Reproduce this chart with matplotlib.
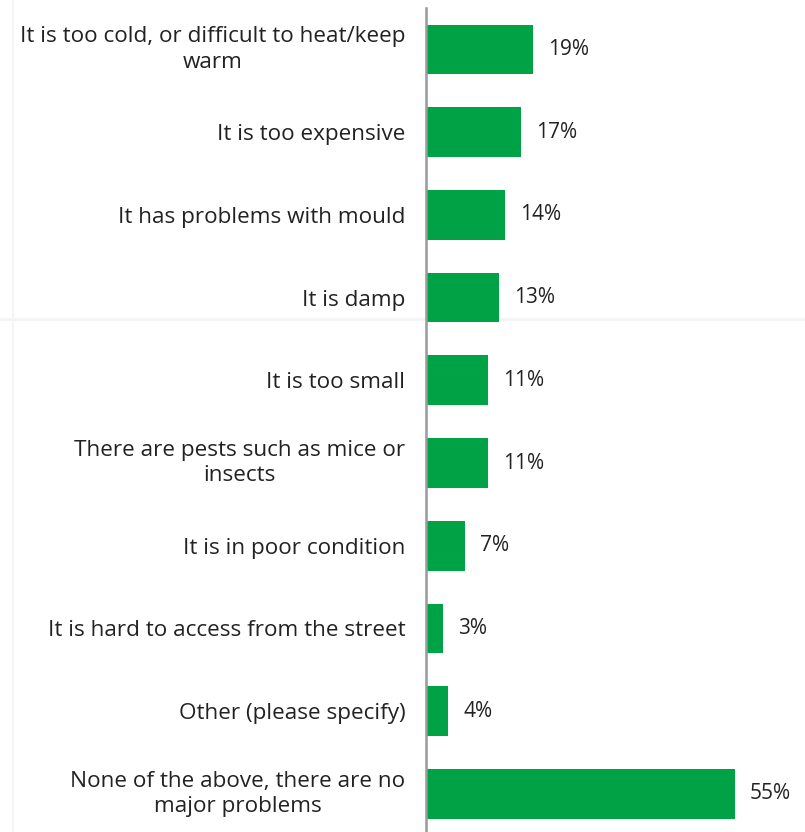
import matplotlib
matplotlib.use("Agg")
import matplotlib.pyplot as plt
from matplotlib.lines import Line2D

categories = [
    "It is too cold, or difficult to heat/keep\nwarm",
    "It is too expensive",
    "It has problems with mould",
    "It is damp",
    "It is too small",
    "There are pests such as mice or\ninsects",
    "It is in poor condition",
    "It is hard to access from the street",
    "Other (please specify)",
    "None of the above, there are no\nmajor problems",
]
values = [19, 17, 14, 13, 11, 11, 7, 3, 4, 55]
value_labels = ["19%", "17%", "14%", "13%", "11%", "11%", "7%", "3%", "4%", "55%"]

W, H = 805, 832
fig = plt.figure(figsize=(W / 100, H / 100), dpi=100)
fig.patch.set_facecolor("white")

# faint background guide lines (watermark-like)
fig.add_artist(Line2D([0, 1], [1 - 319 / H, 1 - 319 / H], color="#f3f3f3",
                      lw=2, transform=fig.transFigure, zorder=0))
fig.add_artist(Line2D([13 / W, 13 / W], [0, 1], color="#f5f5f5",
                      lw=1.5, transform=fig.transFigure, zorder=0))

ax = fig.add_axes([426 / W, 0, (W - 426) / W, 1 - 8 / H])

font = "Open Sans"
ypos = list(range(len(categories)))
ax.barh(ypos, values, height=0.6, color="#00A246", zorder=2)
ax.set_xlim(0, (W - 426) / 5.61)
ax.set_ylim(9.46, -0.5)

for y, v, lab in zip(ypos, values, value_labels):
    ax.text(v + 2.7, y, lab, va="center", ha="left", fontsize=15,
            color="#222222", family=font)

ax.set_yticks(ypos)
ax.set_yticklabels(categories, fontsize=16.2, color="#222222", family=font,
                   linespacing=1.3)
ax.tick_params(axis="y", length=0, pad=15)
for lab in ax.get_yticklabels():
    lab.set_horizontalalignment("right")
    lab.set_multialignment("center")
    if "\n" in lab.get_text():
        lab.set_verticalalignment("center")
ax.set_xticks([])
for s in ["top", "right", "bottom"]:
    ax.spines[s].set_visible(False)
ax.spines["left"].set_color("#999999")
ax.spines["left"].set_linewidth(1.8)
ax.patch.set_alpha(0)

fig.savefig("out.png", dpi=100, facecolor="white")
